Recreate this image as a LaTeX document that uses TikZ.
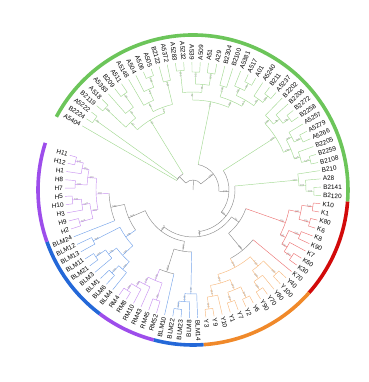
\documentclass[tikz,border=0pt]{standalone}
\usepackage{fontspec}
\setmainfont{Liberation Sans}
\definecolor{gbr}{HTML}{8E8E8E}
\definecolor{grn}{HTML}{A3D993}
\definecolor{redb}{HTML}{EC7474}
\definecolor{orb}{HTML}{F7BA80}
\definecolor{blb}{HTML}{76A4EA}
\definecolor{pub}{HTML}{C892F0}
\definecolor{rgrn}{HTML}{6CC55A}
\definecolor{rred}{HTML}{D20A0A}
\definecolor{rorg}{HTML}{F0892A}
\definecolor{rblu}{HTML}{2468D8}
\definecolor{rpur}{HTML}{9D4DEB}
\tikzset{
 br/.style={line width=0.45pt, line cap=butt},
 lbl/.style={font=\fontsize{6.4}{7}\selectfont, inner sep=0.6pt, text=black},
 bs/.style={font=\fontsize{2.6}{3}\selectfont, inner sep=0pt, text=black!55},
 ring/.style={line width=3.6pt, line cap=butt},
}
\newcommand\leaf[3]{%
  \pgfmathsetmacro\la{151.8-3.717*(#2+0.5)}%
  \expandafter\xdef\csname angX#1\endcsname{\la}%
  \expandafter\xdef\csname colX#1\endcsname{#3}%
  \coordinate (#1) at (\la:128pt);%
  \pgfmathsetmacro\lc{cos(\la)}%
  \ifdim\lc pt<0pt
    \pgfmathsetmacro\lr{\la+180}%
    \node[lbl,anchor=east,rotate=\lr] (lab#1) at (\la:129.5pt) {#1};%
  \else
    \node[lbl,anchor=west,rotate=\la] (lab#1) at (\la:129.5pt) {#1};%
  \fi
}
\newcommand\inode[5]{%
  \gdef\amin{1000}\gdef\amax{-1000}%
  \foreach \cn in {#4}{%
    \edef\ca{\csname angX\cn\endcsname}%
    \pgfmathparse{min(\amin,\ca)}\xdef\amin{\pgfmathresult}%
    \pgfmathparse{max(\amax,\ca)}\xdef\amax{\pgfmathresult}%
  }%
  \pgfmathsetmacro\amid{(\amin+\amax)/2}%
  \expandafter\xdef\csname angX#1\endcsname{\amid}%
  \expandafter\xdef\csname colX#1\endcsname{#3}%
  \coordinate (#1) at (\amid:#2pt);%
  \foreach \cn in {#4}{%
    \edef\ca{\csname angX\cn\endcsname}%
    \edef\cc{\csname colX\cn\endcsname}%
    \draw[br,draw=#3] (#1) arc[start angle=\amid, end angle=\ca, radius=#2pt];%
    \draw[br,draw=\cc] (\ca:#2pt) -- (\cn);%
  }%
  \ifx\relax#5\relax\else
    \pgfmathsetmacro\bc{cos(\amid)}%
    \pgfmathsetmacro\rb{#2-3.8}%
    \ifdim\bc pt<0pt \pgfmathsetmacro\bro{\amid+180}\else\edef\bro{\amid}\fi
    \node[bs,rotate=\bro] (bs#1) at (\amid:\rb pt) {#5};%
  \fi
}
\begin{document}
\begin{tikzpicture}
\useasboundingbox (-193pt,-192pt) rectangle (175pt,190pt);
% colour ring
\draw[ring,rgrn] (151.8:155pt) arc[start angle=151.8, end angle=-4.3, radius=155pt];
\draw[ring,rred] (-4.3:155pt) arc[start angle=-4.3, end angle=-41.5, radius=155pt];
\draw[ring,rorg] (-41.5:155pt) arc[start angle=-41.5, end angle=-86.1, radius=155pt];
\draw[ring,rblu] (-86.1:155pt) arc[start angle=-86.1, end angle=-104.7, radius=155pt];
\draw[ring,rpur] (-104.7:155pt) arc[start angle=-104.7, end angle=-127.0, radius=155pt];
\draw[ring,rblu] (-127.0:155pt) arc[start angle=-127.0, end angle=-160.5, radius=155pt];
\draw[ring,rpur] (-160.5:155pt) arc[start angle=-160.5, end angle=-197.7, radius=155pt];
% leaves
\leaf{A5404}{0}{grn}
\leaf{B2224}{1}{grn}
\leaf{A5222}{2}{grn}
\leaf{B2119}{3}{grn}
\leaf{A518}{4}{grn}
\leaf{A5383}{5}{grn}
\leaf{B209}{6}{grn}
\leaf{A511}{7}{grn}
\leaf{A5148}{8}{grn}
\leaf{A504}{9}{grn}
\leaf{A506}{10}{grn}
\leaf{A505}{11}{grn}
\leaf{B2122}{12}{grn}
\leaf{A5372}{13}{grn}
\leaf{A5283}{14}{grn}
\leaf{A5232}{15}{grn}
\leaf{A539}{16}{grn}
\leaf{A509}{17}{grn}
\leaf{A51}{18}{grn}
\leaf{A29}{19}{grn}
\leaf{B2304}{20}{grn}
\leaf{B2100}{21}{grn}
\leaf{A5381}{22}{grn}
\leaf{A517}{23}{grn}
\leaf{A01}{24}{grn}
\leaf{A5240}{25}{grn}
\leaf{B211}{26}{grn}
\leaf{A5237}{27}{grn}
\leaf{B2202}{28}{grn}
\leaf{B2206}{29}{grn}
\leaf{B2272}{30}{grn}
\leaf{B2258}{31}{grn}
\leaf{A5257}{32}{grn}
\leaf{A5279}{33}{grn}
\leaf{A5266}{34}{grn}
\leaf{B2205}{35}{grn}
\leaf{B2259}{36}{grn}
\leaf{B2108}{37}{grn}
\leaf{B210}{38}{grn}
\leaf{A28}{39}{grn}
\leaf{B2141}{40}{grn}
\leaf{B2120}{41}{grn}
\leaf{K10}{42}{redb}
\leaf{K1}{43}{redb}
\leaf{K80}{44}{redb}
\leaf{K6}{45}{redb}
\leaf{K8}{46}{redb}
\leaf{K90}{47}{redb}
\leaf{K7}{48}{redb}
\leaf{K60}{49}{redb}
\leaf{K30}{50}{redb}
\leaf{K70}{51}{redb}
\leaf{Y40}{52}{orb}
\leaf{Y100}{53}{orb}
\leaf{Y80}{54}{orb}
\leaf{Y70}{55}{orb}
\leaf{Y90}{56}{orb}
\leaf{Y6}{57}{orb}
\leaf{Y2}{58}{orb}
\leaf{Y7}{59}{orb}
\leaf{Y1}{60}{orb}
\leaf{Y10}{61}{orb}
\leaf{Y9}{62}{orb}
\leaf{Y3}{63}{orb}
\leaf{BLM14}{64}{blb}
\leaf{BLM8}{65}{blb}
\leaf{BLM23}{66}{blb}
\leaf{BLM22}{67}{blb}
\leaf{BLM10}{68}{blb}
\leaf{RM52}{69}{pub}
\leaf{RM45}{70}{pub}
\leaf{RM43}{71}{pub}
\leaf{RM10}{72}{pub}
\leaf{RM8}{73}{pub}
\leaf{RM4}{74}{pub}
\leaf{BLM4}{75}{blb}
\leaf{BLM6}{76}{blb}
\leaf{BLM1}{77}{blb}
\leaf{BLM3}{78}{blb}
\leaf{BLM21}{79}{blb}
\leaf{BLM11}{80}{blb}
\leaf{BLM13}{81}{blb}
\leaf{BLM12}{82}{blb}
\leaf{BLM24}{83}{blb}
\leaf{H2}{84}{pub}
\leaf{H9}{85}{pub}
\leaf{H3}{86}{pub}
\leaf{H10}{87}{pub}
\leaf{H5}{88}{pub}
\leaf{H7}{89}{pub}
\leaf{H8}{90}{pub}
\leaf{H1}{91}{pub}
\leaf{H12}{92}{pub}
\leaf{H11}{93}{pub}
% green, upper left
\inode{Cb}{121}{grn}{B2224,A5222}{99}
\inode{Cc1}{120}{grn}{B2119,A518}{100}
\inode{Cc3}{118}{grn}{B209,A511}{98}
\inode{Cc2}{102}{grn}{A5383,Cc3}{76}
\inode{Cca}{92}{grn}{Cc1,Cc2}{57}
\inode{Cc6}{121}{grn}{A506,A505}{100}
\inode{Cc5}{110}{grn}{A504,Cc6}{89}
\inode{Cc4}{98}{grn}{A5148,Cc5}{64}
\inode{Cc7}{112}{grn}{B2122,A5372}{100}
\inode{Ccb}{88}{grn}{Cc4,Cc7}{71}
\inode{Cc}{82}{grn}{Cca,Ccb}{93}
\inode{GU}{19}{gbr}{A5404,Cb,Cc}{}
% green, top
\inode{T1a}{120}{grn}{A5283,A5232}{100}
\inode{T2a}{118}{grn}{A539,A509}{95}
\inode{T2b}{118}{grn}{A51,A29}{100}
\inode{T2}{106}{grn}{T2a,T2b}{55}
\inode{T1}{98}{grn}{T1a,T2}{62}
\inode{T3a}{108}{grn}{B2304,B2100}{100}
\inode{T5a}{120}{grn}{A517,A01}{98}
\inode{T5}{112}{grn}{A5381,T5a}{100}
\inode{T6a}{120}{grn}{B211,A5237}{100}
\inode{T6}{112}{grn}{A5240,T6a}{99}
\inode{T4}{104}{grn}{T5,T6}{87}
\inode{T3}{97}{grn}{T3a,T4}{100}
\inode{T}{90}{grn}{T1,T3}{99}
% green, right
\inode{Rg1b}{120}{grn}{B2272,B2258}{100}
\inode{Rg1a}{112}{grn}{B2206,Rg1b}{96}
\inode{Rg1}{104}{grn}{B2202,Rg1a}{100}
\inode{Rg2a1}{120}{grn}{A5279,A5266}{100}
\inode{Rg2a}{112}{grn}{A5257,Rg2a1}{99}
\inode{Rg2b1}{121}{grn}{B2259,B2108}{100}
\inode{Rg2b}{112}{grn}{B2205,Rg2b1}{100}
\inode{Rg2}{106}{grn}{Rg2a,Rg2b}{100}
\inode{Rg}{98}{grn}{Rg1,Rg2}{100}
\inode{Bg2}{121}{grn}{B2141,B2120}{100}
\inode{Bg1}{113}{grn}{A28,Bg2}{100}
\inode{Bg}{106}{grn}{B210,Bg1}{100}
% red
\inode{Ka1}{121}{redb}{K10,K1}{100}
\inode{Ka2}{121}{redb}{K80,K6}{100}
\inode{Ka}{110}{redb}{Ka1,Ka2}{100}
\inode{Kb1}{116}{redb}{K8,K90}{100}
\inode{Kc1}{119}{redb}{K60,K30}{100}
\inode{Kc}{110}{redb}{K7,Kc1}{100}
\inode{Kb}{104}{redb}{Kb1,Kc}{100}
\inode{K}{98}{redb}{Ka,Kb}{100}
% orange
\inode{Ya1}{118}{orb}{Y40,Y100}{100}
\inode{Yb1}{120}{orb}{Y70,Y90}{100}
\inode{Yb}{110}{orb}{Y80,Yb1}{100}
\inode{Ya}{100}{orb}{Ya1,Yb}{100}
\inode{Yd1}{120}{orb}{Y6,Y2}{100}
\inode{Yd2}{118}{orb}{Y7,Y1}{100}
\inode{Yd}{108}{orb}{Yd1,Yd2}{100}
\inode{Ye1}{120}{orb}{Y9,Y3}{100}
\inode{Ye}{108}{orb}{Y10,Ye1}{100}
\inode{Yc}{97}{orb}{Yd,Ye}{100}
\inode{Y}{88}{orb}{Ya,Yc}{100}
\inode{Z}{78}{gbr}{K70,Y}{100}
\inode{Rr}{56}{gbr}{K,Z}{75}
% blue / purple bottom
\inode{Bl1b}{120}{blb}{BLM23,BLM22}{100}
\inode{Bl1a}{112}{blb}{BLM8,Bl1b}{100}
\inode{Bl1}{104}{blb}{BLM14,Bl1a}{100}
\inode{RMc}{120}{pub}{RM8,RM4}{100}
\inode{RMb}{112}{pub}{RM10,RMc}{100}
\inode{RMa}{106}{pub}{RM43,RMb}{100}
\inode{RMd}{116}{pub}{RM52,RM45}{100}
\inode{RM}{98}{pub}{RMd,RMa}{100}
\inode{W}{86}{gbr}{BLM10,RM}{100}
\inode{L2}{62}{gbr}{Bl1,W}{100}
% blue / purple left
\inode{BLb1}{116}{blb}{BLM6,BLM1}{100}
\inode{BLb}{106}{blb}{BLM4,BLb1}{100}
\inode{BLc1}{118}{blb}{BLM21,BLM11}{100}
\inode{BLc}{106}{blb}{BLM3,BLc1}{100}
\inode{BLa}{96}{blb}{BLb,BLc}{100}
\inode{BLd}{112}{blb}{BLM13,BLM12}{100}
\inode{BL}{82}{blb}{BLa,BLd}{100}
\inode{Ha1}{118}{pub}{H2,H9}{100}
\inode{Hb1}{121}{pub}{H10,H5}{100}
\inode{Hb}{112}{pub}{H3,Hb1}{100}
\inode{Ha}{104}{pub}{Ha1,Hb}{100}
\inode{Hc1}{118}{pub}{H7,H8}{100}
\inode{Hd1}{121}{pub}{H12,H11}{100}
\inode{Hd}{113}{pub}{H1,Hd1}{100}
\inode{Hc}{106}{pub}{Hc1,Hd}{100}
\inode{H}{97}{pub}{Ha,Hc}{100}
\inode{HB}{84}{gbr}{BLM24,H}{100}
\inode{L1}{70}{gbr}{BL,HB}{100}
\inode{L}{52}{gbr}{L2,L1}{100}
% backbone
\inode{G5}{47}{gbr}{Rr,L}{100}
\inode{G4}{42}{gbr}{Bg,G5}{100}
\inode{G3}{36}{gbr}{Rg,G4}{100}
\inode{G2}{26}{gbr}{T,G3}{100}
\inode{ROOT}{10}{gbr}{GU,G2}{}
\coordinate (rootbase) at (0,0);
\draw[br,gbr] (rootbase) -- (ROOT);
\end{tikzpicture}
\end{document}
